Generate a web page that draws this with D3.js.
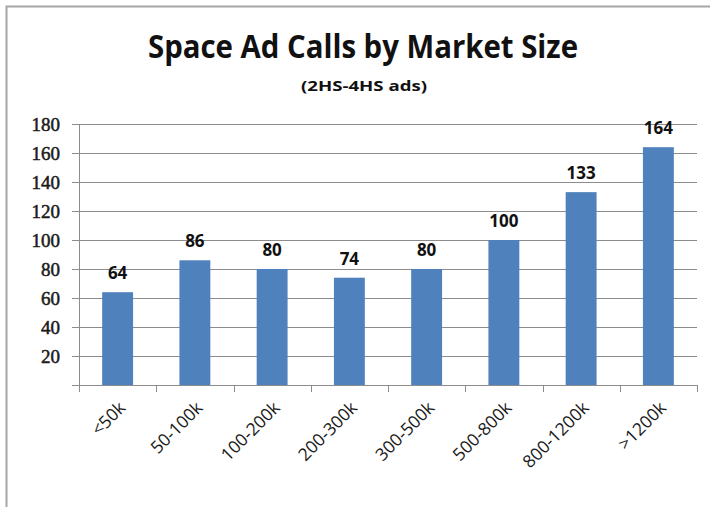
<!DOCTYPE html>
<html>
<head>
<meta charset="utf-8">
<script src="https://cdn.jsdelivr.net/npm/d3@7"></script>
<style>
  body { margin: 0; background: #fff; }
  svg { display: block; font-family: "Open Sans", "Liberation Sans", sans-serif; }
</style>
</head>
<body>
<div id="chart"></div>
<script>
const CATEGORIES = ["<50k", "50-100k", "100-200k", "200-300k", "300-500k", "500-800k", "800-1200k", ">1200k"];
const VALUES = [64, 86, 80, 74, 80, 100, 133, 164];
const Y_TICKS = [20, 40, 60, 80, 100, 120, 140, 160, 180];

const TITLE = "Space Ad Calls by Market Size";
const SUBTITLE = "(2HS-4HS ads)";

const W = 710, H = 507;
const margin = { top: 124, right: 13, bottom: 122, left: 79 };
const innerW = W - margin.left - margin.right;
const innerH = H - margin.top - margin.bottom;

const svg = d3.select("#chart").append("svg")
  .attr("width", W)
  .attr("height", H);

// outer frame (only top/left visible in the reference)
svg.append("rect")
  .attr("x", 6.5).attr("y", 6.5)
  .attr("width", 740).attr("height", 540)
  .attr("fill", "none")
  .attr("stroke", "#a6a6a6").attr("stroke-width", 2);

svg.append("text")
  .attr("x", 363).attr("y", 58)
  .attr("text-anchor", "middle")
  .attr("font-size", 32).attr("font-weight", 700)
  .attr("textLength", 430).attr("lengthAdjust", "spacingAndGlyphs")
  .attr("fill", "#111")
  .text(TITLE);

svg.append("text")
  .attr("x", 364).attr("y", 91)
  .attr("text-anchor", "middle")
  .attr("font-size", 15).attr("font-weight", 700)
  .attr("textLength", 126).attr("lengthAdjust", "spacingAndGlyphs")
  .attr("fill", "#111")
  .text(SUBTITLE);

const g = svg.append("g")
  .attr("transform", `translate(${margin.left},${margin.top})`);

const x = d3.scaleBand().domain(CATEGORIES).range([0, innerW]).paddingInner(0.6).paddingOuter(0.3);
const y = d3.scaleLinear().domain([0, 180]).range([innerH, 0]);

// gridlines
g.selectAll(".grid")
  .data(Y_TICKS)
  .join("line")
  .attr("class", "grid")
  .attr("x1", 0).attr("x2", innerW)
  .attr("y1", (d) => Math.round(y(d)) + 0.5).attr("y2", (d) => Math.round(y(d)) + 0.5)
  .attr("stroke", "#8c8c8c").attr("stroke-width", 1);

// y axis (serif labels, as in the reference)
const yAxis = g.append("g")
  .call(d3.axisLeft(y).tickValues(Y_TICKS).tickSize(7).tickPadding(12));
yAxis.select(".domain").attr("stroke", "#8c8c8c");
yAxis.selectAll(".tick line").attr("stroke", "#8c8c8c");
yAxis.selectAll(".tick text")
  .attr("font-size", 19).attr("fill", "#1a1a1a")
  .attr("stroke", "#1a1a1a").attr("stroke-width", 0.5)
  .attr("font-family", "'Liberation Serif', 'DejaVu Serif', serif");

// bars
g.selectAll(".bar")
  .data(VALUES)
  .join("rect")
  .attr("class", "bar")
  .attr("x", (d, i) => x(CATEGORIES[i]))
  .attr("y", (d) => y(d))
  .attr("width", x.bandwidth())
  .attr("height", (d) => innerH - y(d))
  .attr("fill", "#4f81bd");

// value labels
g.selectAll(".val")
  .data(VALUES)
  .join("text")
  .attr("class", "val")
  .attr("x", (d, i) => x(CATEGORIES[i]) + x.bandwidth() / 2)
  .attr("y", (d) => y(d) - 13)
  .attr("text-anchor", "middle")
  .attr("font-size", 17).attr("font-weight", 700)
  .attr("fill", "#111")
  .text((d) => d);

// x axis baseline with ticks at band boundaries
const step = innerW / CATEGORIES.length;
g.append("line")
  .attr("x1", 0).attr("x2", innerW)
  .attr("y1", innerH + 0.5).attr("y2", innerH + 0.5)
  .attr("stroke", "#8c8c8c");
g.selectAll(".xtick")
  .data(d3.range(CATEGORIES.length + 1))
  .join("line")
  .attr("class", "xtick")
  .attr("x1", (i) => Math.round(i * step) + 0.5).attr("x2", (i) => Math.round(i * step) + 0.5)
  .attr("y1", innerH).attr("y2", innerH + 7)
  .attr("stroke", "#8c8c8c");

// rotated category labels
g.selectAll(".xlab")
  .data(CATEGORIES)
  .join("text")
  .attr("class", "xlab")
  .attr("transform", (d) => `translate(${x(d) + x.bandwidth() / 2 + 9},${innerH + 24}) rotate(-45)`)
  .attr("text-anchor", "end")
  .attr("font-size", 17.5)
  .attr("fill", "#1a1a1a")
  .text((d) => d);
</script>
</body>
</html>
